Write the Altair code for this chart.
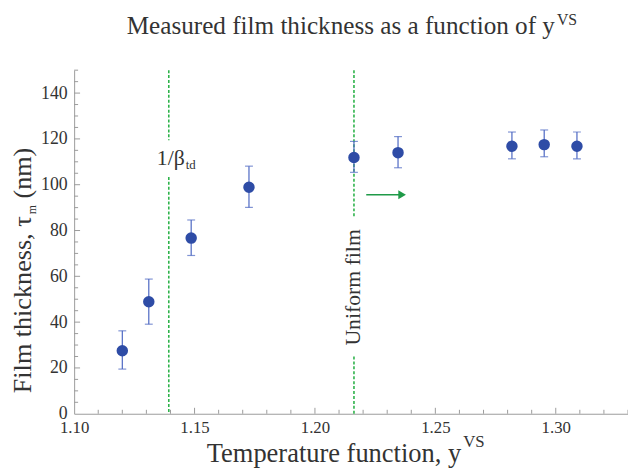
import altair as alt
import pandas as pd

# ---- data ----
x_vals = [1.120, 1.131, 1.1486, 1.1726, 1.2162, 1.2345, 1.2818, 1.2952, 1.3088]
y_vals = [27.5, 48.9, 76.7, 98.9, 111.9, 114.0, 116.8, 117.5, 116.8]
y_low = [19.5, 39.1, 69.1, 90.1, 105.4, 107.4, 111.3, 112.2, 111.3]
y_high = [36.2, 58.8, 84.6, 108.1, 118.9, 121.0, 123.0, 123.9, 123.0]

x_major = [1.10, 1.15, 1.20, 1.25, 1.30]
x_minor = [1.11, 1.12, 1.13, 1.14, 1.16, 1.17, 1.18, 1.19, 1.21, 1.22, 1.23,
           1.24, 1.26, 1.27, 1.28, 1.29, 1.31, 1.32, 1.33]
y_major = [0, 20, 40, 60, 80, 100, 120, 140]
y_minor = [5, 10, 15, 25, 30, 35, 45, 50, 55, 65, 70, 75, 85, 90, 95, 105,
           110, 115, 125, 130, 135, 145, 150]

# vertical dashed marker lines (x, from, to) with gaps for their labels
line_x = [1.1393, 1.1393, 1.2162, 1.2162]
line_y1 = [150, 103.4, 150, 25.0]
line_y2 = [119.4, 0, 85.6, 0]

# arrow
arrow_x = [1.2213]
arrow_x2 = [1.2362]
arrow_y = [95.6]

X_DOMAIN = [1.10, 1.33]
Y_DOMAIN = [0, 150]
W, H = 561, 348

GREEN_LINE = "#2db34a"
GREEN_ARROW = "#1f9a48"
BLUE = "#2e4ca6"
BLUE_BAR = "#4b66c2"
AXIS_GRAY = "#9a9a9a"
TEXT = "#333333"
FONT = "Liberation Serif"

xs = alt.Scale(domain=X_DOMAIN, nice=False, zero=False)
ys = alt.Scale(domain=Y_DOMAIN, nice=False, zero=False)
xaxis = alt.Axis(values=x_major, format=".2f", ticks=False, tickSize=0, grid=False,
                 domainColor=AXIS_GRAY, labelFont=FONT, labelFontSize=17,
                 labelColor=TEXT, labelPadding=6, title=None, labelFlush=False)
yaxis = alt.Axis(values=y_major, format="d", ticks=False, tickSize=0, grid=False,
                 domainColor=AXIS_GRAY, labelFont=FONT, labelFontSize=18,
                 labelColor=TEXT, labelPadding=7, title=None)


def X(f):
    return alt.X(f, type="quantitative", scale=xs, axis=xaxis)


def Y(f):
    return alt.Y(f, type="quantitative", scale=ys, axis=yaxis)


pts = pd.DataFrame({"x": x_vals, "y": y_vals, "lo": y_low, "hi": y_high})
lines = pd.DataFrame({"x": line_x, "y1": line_y1, "y2": line_y2})
arrow = pd.DataFrame({"x": arrow_x, "x2": arrow_x2, "y": arrow_y})
xt_major = pd.DataFrame({"v": x_major[1:]})
xt_minor = pd.DataFrame({"v": x_minor})
yt_major = pd.DataFrame({"v": y_major[1:]})
yt_minor = pd.DataFrame({"v": y_minor})

dashed = alt.Chart(lines).mark_rule(color=GREEN_LINE, strokeWidth=1.6, strokeDash=[3, 2]).encode(
    x=X("x"), y=Y("y1"), y2="y2")

bars = alt.Chart(pts).mark_rule(color=BLUE_BAR, strokeWidth=1.2).encode(
    x=X("x"), y=Y("lo"), y2="hi")
caps = alt.Chart(pts).transform_fold(["lo", "hi"], as_=["k", "val"]).mark_tick(
    orient="horizontal", color=BLUE_BAR, size=8, thickness=1.2).encode(
    x=X("x"), y=Y("val:Q"))
dots = alt.Chart(pts).mark_circle(size=135, color=BLUE, opacity=1).encode(
    x=X("x"), y=Y("y"))

arrow_line = alt.Chart(arrow).mark_rule(color=GREEN_ARROW, strokeWidth=1.4).encode(
    x=X("x"), x2="x2", y=Y("y"))
arrow_head = alt.Chart(arrow).mark_point(shape="triangle-right", filled=True, size=80,
                                          color=GREEN_ARROW, opacity=1).encode(
    x=X("x2"), y=Y("y"))


def xtick(df, length):
    return alt.Chart(df).mark_rule(color=AXIS_GRAY, strokeWidth=1).encode(
        x=X("v"), y=alt.value(H), y2=alt.value(H - length))


def ytick(df, length):
    return alt.Chart(df).mark_rule(color=AXIS_GRAY, strokeWidth=1).encode(
        y=Y("v"), x=alt.value(0), x2=alt.value(length))


def txt(text, x, y, size, align="left", angle=0, baseline="alphabetic"):
    return alt.Chart(pd.DataFrame({"t": [text]})).mark_text(
        font=FONT, fontSize=size, color=TEXT, align=align, angle=angle,
        baseline=baseline).encode(text="t:N", x=alt.value(x), y=alt.value(y))


# title  y^VS
t1 = txt("Measured film thickness as a function of y", 487, -37, 25.5, align="right")
t2 = txt("VS", 489, -46, 16)
# x title
xt1 = txt("Temperature function, y", 392, 397, 26.8, align="right")
xt2 = txt("VS", 394, 382, 17)
# y title (rotated)
yt1 = txt("Film thickness, \u03c4", -44, 148, 26.5, align="right", angle=270)
yt2 = txt("m", -39, 146, 12, angle=270)
yt3 = txt("(nm)", -44, 130, 26.5, angle=270)
# annotations
b1 = txt("1/\u03b2", 112, 96, 22, align="right")
b2 = txt("td", 113, 100, 13)
uni = txt("Uniform film", 283, 220, 22, align="center", angle=270, baseline="middle")

chart = alt.layer(
    dashed, bars, caps, dots, arrow_line, arrow_head,
    xtick(xt_major, 6), xtick(xt_minor, 4), ytick(yt_major, 6), ytick(yt_minor, 4),
    t1, t2, xt1, xt2, yt1, yt2, yt3, b1, b2, uni
).properties(
    width=W, height=H,
    autosize=alt.AutoSizeParams(type="none"),
    padding={"left": 67, "top": 60, "right": 0, "bottom": 55},
    background="white",
).configure_view(stroke=None)

chart.save("out.html", embed_options={"renderer": "svg", "actions": False})
